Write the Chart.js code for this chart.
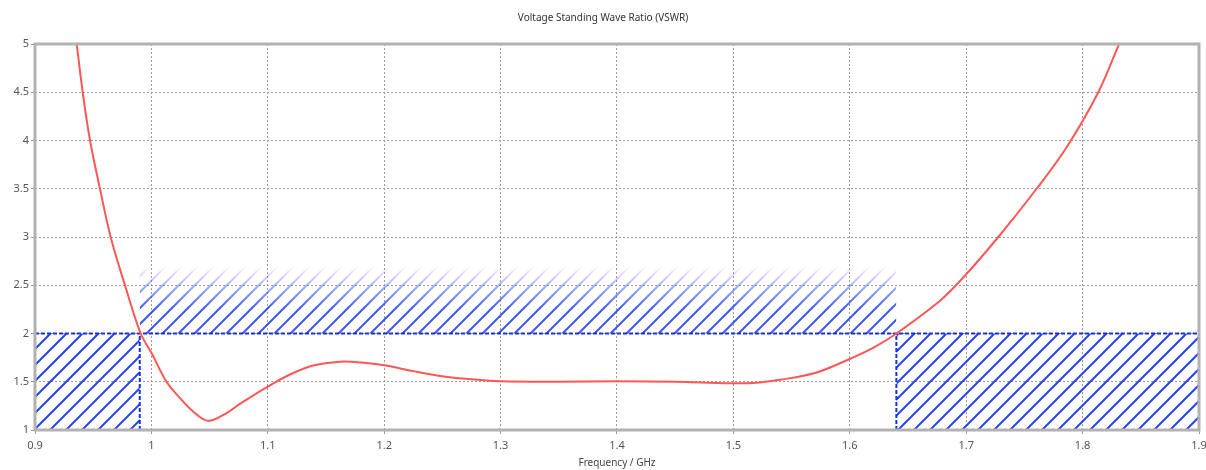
<!DOCTYPE html>
<html>
<head>
<meta charset="utf-8">
<title>VSWR</title>
<script src="https://cdn.jsdelivr.net/npm/chart.js@4/dist/chart.umd.min.js"></script>
<style>
  html, body { margin: 0; padding: 0; background: #fff; }
  #wrap { width: 1206px; height: 470px; }
</style>
</head>
<body>
<div id="wrap"><canvas id="vswrChart"></canvas></div>
<script>
// measured VSWR across the band (GHz)
const freq = [0.930, 0.9358, 0.941, 0.9473, 0.9558, 0.965, 0.9773, 0.9908, 1.000, 1.013, 1.0246, 1.036,
    1.0489, 1.0647, 1.076, 1.10, 1.12, 1.14, 1.1646, 1.18, 1.20, 1.225, 1.248, 1.27, 1.30, 1.35, 1.40,
    1.45, 1.497, 1.52, 1.54, 1.57, 1.597, 1.62, 1.64, 1.6775, 1.6975, 1.7276, 1.7605, 1.7863, 1.8135,
    1.8313, 1.84];
const vswr = [5.56, 5.0, 4.5, 4.0, 3.5, 3.0, 2.5, 2.0, 1.80, 1.50, 1.33, 1.19,
    1.095, 1.176, 1.27, 1.45, 1.58, 1.67, 1.71, 1.70, 1.67, 1.61, 1.56, 1.53, 1.505, 1.50, 1.505,
    1.50, 1.485, 1.49, 1.52, 1.59, 1.72, 1.85, 2.0, 2.34, 2.58, 3.0, 3.5, 3.93, 4.5,
    5.0, 5.25];

// spec mask: VSWR <= 2 between the band edges
const specLimit = 2;
const bandEdges = [0.99, 1.64];
const bandTop = 2.7;
const freqRange = [0.9, 1.9];
const vswrRange = [1, 5];

const HATCH = "#2b45e8";
const MASK_LINE = "#1434e4";
const FONT = "'Noto Sans', 'DejaVu Sans', sans-serif";

function makeHatch(chart, fade) {
    const off = document.createElement("canvas");
    off.width = chart.width;
    off.height = chart.height;
    const c = off.getContext("2d");
    c.strokeStyle = HATCH;
    c.lineWidth = 2;
    c.beginPath();
    for (let x0 = -off.height; x0 < off.width; x0 += 16) {
        c.moveTo(x0, off.height);
        c.lineTo(x0 + off.height, 0);
    }
    c.stroke();
    if (fade) {
        const y = chart.scales.y;
        const g = c.createLinearGradient(0, y.getPixelForValue(specLimit + 0.25), 0, y.getPixelForValue(bandTop));
        g.addColorStop(0, "rgba(0,0,0,0.9)");
        g.addColorStop(1, "rgba(0,0,0,0)");
        c.globalCompositeOperation = "destination-in";
        c.fillStyle = g;
        c.fillRect(0, 0, off.width, off.height);
    }
    return chart.ctx.createPattern(off, "no-repeat");
}

function hatchFill(fade) {
    return (context) => {
        const chart = context.chart;
        if (!chart.chartArea || !chart.scales.y) return "transparent";
        return makeHatch(chart, fade);
    };
}

const curve = freq.map((f, i) => ({ x: f, y: vswr[i] }));

// grey box around the plot area
const frame = {
    id: "frame",
    afterDatasetsDraw(chart) {
        const { ctx, chartArea: a } = chart;
        ctx.save();
        ctx.strokeStyle = "#b2b2b2";
        ctx.lineWidth = 3;
        ctx.strokeRect(a.left, a.top, a.right - a.left, a.bottom - a.top);
        ctx.restore();
    }
};

const base = { showLine: true, pointRadius: 0, pointHoverRadius: 0 };

new Chart(document.getElementById("vswrChart"), {
    type: "scatter",
    data: {
        datasets: [
            {
                ...base,
                label: "VSWR",
                data: curve,
                borderColor: "#ff5656",
                borderWidth: 2,
                tension: 0.35,
                fill: false
            },
            {
                ...base,
                label: "limit",
                data: [{ x: freqRange[0], y: specLimit }, { x: freqRange[1], y: specLimit }],
                borderColor: MASK_LINE,
                borderWidth: 2,
                borderDash: [4, 2],
                fill: false
            },
            {
                ...base,
                label: "lower edge",
                data: [{ x: bandEdges[0], y: vswrRange[0] }, { x: bandEdges[0], y: specLimit }],
                borderColor: MASK_LINE,
                borderWidth: 2,
                borderDash: [4, 2],
                fill: false
            },
            {
                ...base,
                label: "upper edge",
                data: [{ x: bandEdges[1], y: vswrRange[0] }, { x: bandEdges[1], y: specLimit }],
                borderColor: MASK_LINE,
                borderWidth: 2,
                borderDash: [4, 2],
                fill: false
            },
            {
                ...base,
                label: "below band",
                data: [{ x: freqRange[0], y: specLimit }, { x: bandEdges[0], y: specLimit }],
                borderWidth: 0,
                backgroundColor: hatchFill(false),
                fill: "start"
            },
            {
                ...base,
                label: "above band",
                data: [{ x: bandEdges[1], y: specLimit }, { x: freqRange[1], y: specLimit }],
                borderWidth: 0,
                backgroundColor: hatchFill(false),
                fill: "start"
            },
            {
                ...base,
                label: "in band",
                data: [{ x: bandEdges[0], y: bandTop }, { x: bandEdges[1], y: bandTop }],
                borderWidth: 0,
                backgroundColor: hatchFill(true),
                fill: { value: specLimit }
            }
        ]
    },
    options: {
        responsive: true,
        maintainAspectRatio: false,
        animation: false,
        plugins: {
            legend: { display: false },
            tooltip: { enabled: false },
            title: {
                display: true,
                text: "Voltage Standing Wave Ratio (VSWR)",
                color: "#333",
                font: { family: FONT, size: 10, weight: "normal" },
                padding: { top: 12, bottom: 20 }
            }
        },
        scales: {
            x: {
                type: "linear",
                min: freqRange[0],
                max: freqRange[1],
                afterFit: (s) => {
                    s.height = 40;
                    s.paddingLeft = 0;
                    s.paddingRight = 7;
                },
                ticks: {
                    stepSize: 0.1,
                    color: "#555",
                    padding: 5,
                    font: { family: FONT, size: 11 },
                    callback: (v) => Math.round(v * 10) / 10
                },
                grid: { color: "#9a9a9a", tickLength: 4 },
                border: { display: false, dash: [2, 2] },
                title: {
                    display: true,
                    text: "Frequency / GHz",
                    color: "#444",
                    font: { family: FONT, size: 10 },
                    padding: { top: 0, bottom: 1 }
                }
            },
            y: {
                type: "linear",
                min: vswrRange[0],
                max: vswrRange[1],
                afterFit: (s) => { s.width = 35; },
                ticks: {
                    stepSize: 0.5,
                    color: "#555",
                    padding: 2,
                    font: { family: FONT, size: 11 },
                    callback: (v) => Math.round(v * 10) / 10
                },
                grid: { color: "#9a9a9a", tickLength: 4 },
                border: { display: false, dash: [2, 2] }
            }
        }
    },
    plugins: [frame]
});
</script>
</body>
</html>
